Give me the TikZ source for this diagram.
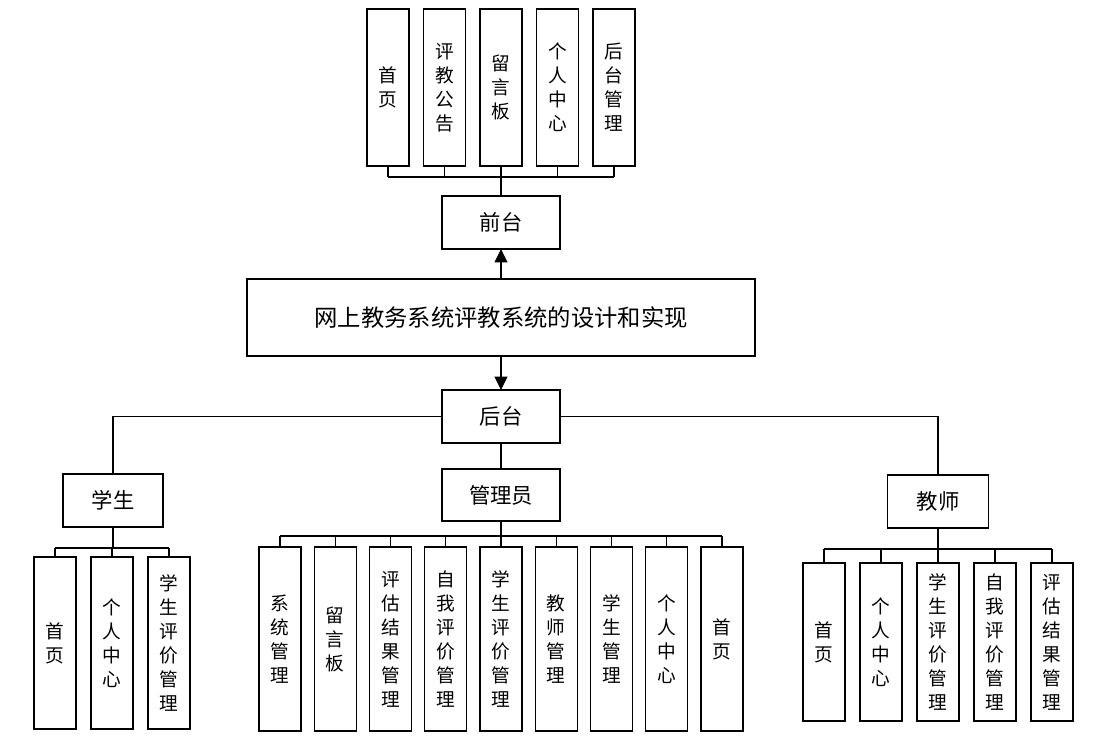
\documentclass[tikz,border=0pt]{standalone}
\usepackage{fontspec}
\newfontfamily\cjk{Noto Sans CJK SC}
\usetikzlibrary{arrows.meta}

\begin{document}
\begin{tikzpicture}[x=0.75pt,y=-0.75pt,
  box/.style={draw, line width=0.8pt, inner sep=0pt, outer sep=0pt, align=center,
    font=\cjk\fontsize{16}{18}\selectfont},
  vbox/.style={box, minimum width=31.5pt, font=\cjk\fontsize{14}{18}\selectfont},
  wire/.style={line width=0.8pt},
  arr/.style={line width=1.2pt, -{Triangle[length=10pt,width=9.5pt]}}]
\useasboundingbox (0,0) rectangle (1119,747);

% Main box
\node[box, minimum width=381pt, minimum height=57.75pt,
  font=\cjk\fontsize{17.5}{20}\selectfont] (main) at (501,317.5) {网上教务系统评教系统的设计和实现};

% Front and back
\node[box, minimum width=88.5pt, minimum height=39.75pt] (qt) at (501,222.5) {前台};
\node[box, minimum width=88.5pt, minimum height=39.75pt] (ht) at (501,416.5) {后台};
\draw[arr] (main) -- (qt);
\draw[arr] (main) -- (ht);

% Front pages
\foreach \t [count=\i] in {{首\\页},{评\\教\\公\\告},{留\\言\\板},{个\\人\\中\\心},{后\\台\\管\\理}}
  \node[vbox, minimum height=117.75pt] (f\i) at ({388+56.5*(\i-1)},87.5) {\t};
\coordinate (fbus) at (501,177);
\foreach \i in {1,...,5}
  \draw[wire] (f\i.south) -- (f\i.south |- fbus);
\draw[wire] (f1.south |- fbus) -- (f5.south |- fbus);
\draw[wire] (qt.north) -- (qt.north |- fbus);

% Roles
\node[box, minimum width=75pt, minimum height=39.75pt] (xs) at (113,500.5) {学生};
\node[box, minimum width=88.5pt, minimum height=39pt] (gly) at (501,495) {管理员};
\node[box, minimum width=75.75pt, minimum height=39.75pt] (js) at (938,501.5) {教师};
\draw[wire] (ht.west) -| (xs.north);
\draw[wire] (ht.east) -| (js.north);
\draw[wire] (ht.south) -- (gly.north);

% Student
\foreach \t [count=\i] in {{首\\页},{个\\人\\中\\心},{学\\生\\评\\价\\管\\理}}
  \node[vbox, minimum height=129pt] (xs\i) at ({55+57*(\i-1)},643) {\t};
\coordinate (xbus) at (113,548);
\foreach \i in {1,...,3}
  \draw[wire] (xs\i.north) -- (xs\i.north |- xbus);
\draw[wire] (xs1.north |- xbus) -- (xs3.north |- xbus);
\draw[wire] (xs.south) -- (xs.south |- xbus);

% Admin
\foreach \t [count=\i] in {{系\\统\\管\\理},{留\\言\\板},{评\\估\\结\\果\\管\\理},{自\\我\\评\\价\\管\\理},
    {学\\生\\评\\价\\管\\理},{教\\师\\管\\理},{学\\生\\管\\理},{个\\人\\中\\心},{首\\页}}
  \node[vbox, minimum height=138pt] (gly\i) at ({280+55.25*(\i-1)},639) {\t};
\coordinate (gbus) at (501,536);
\foreach \i in {1,...,9}
  \draw[wire] (gly\i.north) -- (gly\i.north |- gbus);
\draw[wire] (gly1.north |- gbus) -- (gly9.north |- gbus);
\draw[wire] (gly.south) -- (gly.south |- gbus);

% Teacher
\foreach \t [count=\i] in {{首\\页},{个\\人\\中\\心},{学\\生\\评\\价\\管\\理},{自\\我\\评\\价\\管\\理},{评\\估\\结\\果\\管\\理}}
  \node[vbox, minimum height=118.5pt] (js\i) at ({824+57*(\i-1)},642) {\t};
\coordinate (jbus) at (938,549);
\foreach \i in {1,...,5}
  \draw[wire] (js\i.north) -- (js\i.north |- jbus);
\draw[wire] (js1.north |- jbus) -- (js5.north |- jbus);
\draw[wire] (js.south) -- (js.south |- jbus);
\end{tikzpicture}
\end{document}
